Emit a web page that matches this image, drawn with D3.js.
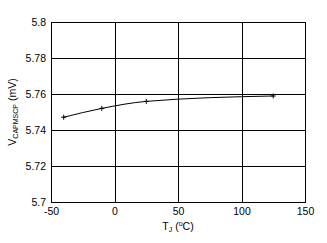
<!DOCTYPE html>
<html><head><meta charset="utf-8">
<script src="https://cdn.jsdelivr.net/npm/d3@7"></script>
<style>body{margin:0;background:#fff}</style>
</head><body><svg id="c" width="327" height="243"></svg>
<script>
const temps = [-40, -10, 25, 125];
const volts = [5.7471, 5.7520, 5.7559, 5.7589];
const xTicks = [-50, 0, 50, 100, 150];
const yTicks = [5.70, 5.72, 5.74, 5.76, 5.78, 5.80];
const yTickLabels = ["5.7", "5.72", "5.74", "5.76", "5.78", "5.8"];

const svg = d3.select("#c");
const L = 51, R = 305, T = 22, B = 202;
const x = d3.scaleLinear().domain([-50, 150]).range([L, R]);
const y = d3.scaleLinear().domain([5.7, 5.8]).range([B, T]);
const font = "Liberation Sans, Arial, sans-serif";

const gx = svg.append("g").attr("transform", `translate(0,${B})`)
  .call(d3.axisBottom(x).tickValues(xTicks).tickSize(-(B - T)).tickPadding(6).tickFormat(d => String(d)));
const gy = svg.append("g").attr("transform", `translate(${L},0)`)
  .call(d3.axisLeft(y).tickValues(yTicks).tickSize(-(R - L)).tickPadding(5).tickFormat((d, i) => yTickLabels[i]));
[gx, gy].forEach(g => {
  g.select(".domain").remove();
  g.selectAll("line").attr("stroke", "#000").attr("stroke-width", 1).attr("shape-rendering", "crispEdges");
  g.selectAll("text").attr("font-family", font).attr("font-size", 10.5).attr("fill", "#000");
});
svg.append("rect").attr("x", L).attr("y", T).attr("width", R - L).attr("height", B - T)
  .attr("fill", "none").attr("stroke", "#000").attr("stroke-width", 1).attr("shape-rendering", "crispEdges");

const pts = temps.map((t, i) => [x(t), y(volts[i])]);
svg.append("path").attr("d", d3.line().curve(d3.curveMonotoneX)(pts))
  .attr("fill", "none").attr("stroke", "#000").attr("stroke-width", 1);
svg.selectAll(".m").data(pts).join("path")
  .attr("d", d => `M${d[0]-2.5},${d[1]}H${d[0]+2.5}M${d[0]},${d[1]-2.5}V${d[1]+2.5}`)
  .attr("stroke", "#000").attr("stroke-width", 1);

const xt = svg.append("text").attr("x", (L + R) / 2).attr("y", 230).attr("text-anchor", "middle")
  .attr("font-family", font).attr("font-size", 10.5);
xt.append("tspan").text("T");
xt.append("tspan").attr("font-size", 7).attr("dy", 2).text("J");
xt.append("tspan").attr("dy", -2).text(" (");
xt.append("tspan").attr("font-size", 7).attr("dy", -4).text("o");
xt.append("tspan").attr("dy", 4).text("C)");

const yt = svg.append("text").attr("transform", `translate(16,${(T + B) / 2}) rotate(-90)`)
  .attr("text-anchor", "middle").attr("font-family", font).attr("font-size", 10.5);
yt.append("tspan").text("V");
yt.append("tspan").attr("font-size", 7).attr("dy", 2).text("CAPMSCP");
yt.append("tspan").attr("dy", -2).text(" (mV)");
</script></body></html>
